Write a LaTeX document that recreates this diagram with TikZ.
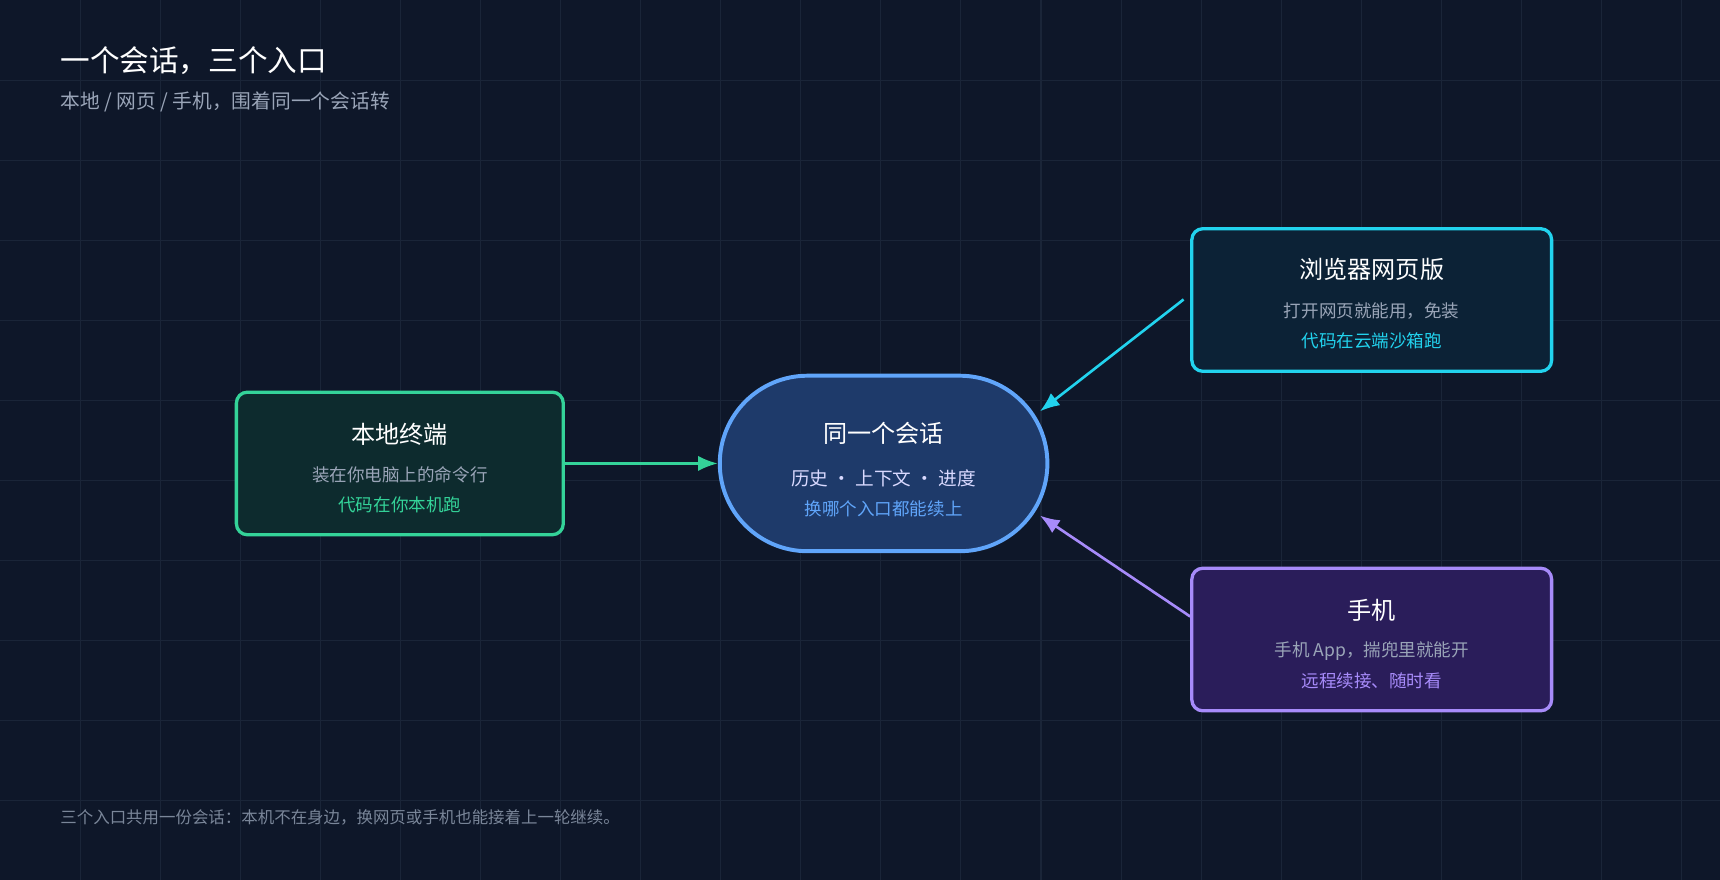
\documentclass[tikz,border=0pt]{standalone}
\usepackage{fontspec}
\setmainfont{Noto Sans CJK SC}
\usetikzlibrary{arrows.meta,shapes.misc}
\definecolor{bg}{HTML}{0E1729}
\definecolor{gridc}{HTML}{1A2538}
\definecolor{sub}{HTML}{9AA5B8}
\definecolor{foot}{HTML}{7A8699}
\definecolor{grn}{HTML}{34D399}
\definecolor{grnf}{HTML}{0D2B2E}
\definecolor{blu}{HTML}{60A5FA}
\definecolor{bluf}{HTML}{1E3A6A}
\definecolor{cya}{HTML}{22D3EE}
\definecolor{cyaf}{HTML}{0C2236}
\definecolor{pur}{HTML}{A78BFA}
\definecolor{purf}{HTML}{2A1D5A}
\tikzset{
 box/.style={draw, line width=1.5pt, rounded corners=5pt, minimum width=150pt, minimum height=65pt},
 ttl/.style={text=white, font=\fontsize{11}{13}\selectfont},
 dsc/.style={text=sub, font=\fontsize{8}{10}\selectfont},
 hl/.style={font=\fontsize{8}{10}\selectfont},
 arr/.style={line width=1.2pt, -{Latex[length=9pt,width=7pt]}}
}
\begin{document}
\begin{tikzpicture}[x=0.5pt,y=-0.5pt]
\useasboundingbox (0,0) rectangle (1568,802);
\fill[bg] (0,0) rectangle (1568,802);
\foreach \i in {1,...,21} \draw[gridc, line width=0.5pt] (\i*73,0) -- (\i*73,802);
\foreach \i in {1,...,10} \draw[gridc, line width=0.5pt] (0,\i*73) -- (1568,\i*73);
\node[anchor=west, text=white, font=\fontsize{13.5}{16}\selectfont] (title) at (48,55) {一个会话，三个入口};
\node[anchor=west, text=sub, font=\fontsize{9}{11}\selectfont] (subt) at (48,93) {本地 / 网页 / 手机，围着同一个会话转};
\node[anchor=west, text=foot, font=\fontsize{7.5}{9}\selectfont] (foot) at (48,745) {三个入口共用一份会话：本机不在身边，换网页或手机也能接着上一轮继续。};

\node[box, draw=grn, fill=grnf, minimum width=149pt] (loc) at (364.5,422.5) {};
\node[ttl] (locT) at (364.5,396) {本地终端};
\node[dsc] (locD) at (364.5,433) {装在你电脑上的命令行};
\node[hl, text=grn] (locH) at (364.5,460) {代码在你本机跑};

\node[rounded rectangle, draw=blu, fill=bluf, line width=1.8pt, minimum width=156pt, minimum height=80pt] (ses) at (805.5,422.5) {};
\node[ttl] (sesT) at (805.5,395) {同一个会话};
\node[text=white!85!blue, font=\fontsize{8.5}{10}\selectfont] (sesD) at (805.5,436) {历史 · 上下文 · 进度};
\node[hl, text=blu] (sesH) at (805.5,464) {换哪个入口都能续上};

\node[box, draw=cya, fill=cyaf, minimum width=164pt] (web) at (1250.5,273.5) {};
\node[ttl] (webT) at (1250.5,246) {浏览器网页版};
\node[dsc] (webD) at (1250.5,284) {打开网页就能用，免装};
\node[hl, text=cya] (webH) at (1250.5,311) {代码在云端沙箱跑};

\node[box, draw=pur, fill=purf, minimum width=164pt] (mob) at (1250.5,583) {};
\node[ttl] (mobT) at (1250.5,556) {手机};
\node[dsc] (mobD) at (1250.5,594) {手机 App，揣兜里就能开};
\node[hl, text=pur] (mobH) at (1250.5,621) {远程续接、随时看};

\coordinate (w0) at (1079,273);
\coordinate (w1) at (948,375);
\coordinate (m0) at (1085,562);
\coordinate (m1) at (948,470);
\draw[arr, grn] (loc.east) -- (ses.west);
\draw[arr, cya] (w0) -- (w1);
\draw[arr, pur] (m0) -- (m1);
\end{tikzpicture}
\end{document}
